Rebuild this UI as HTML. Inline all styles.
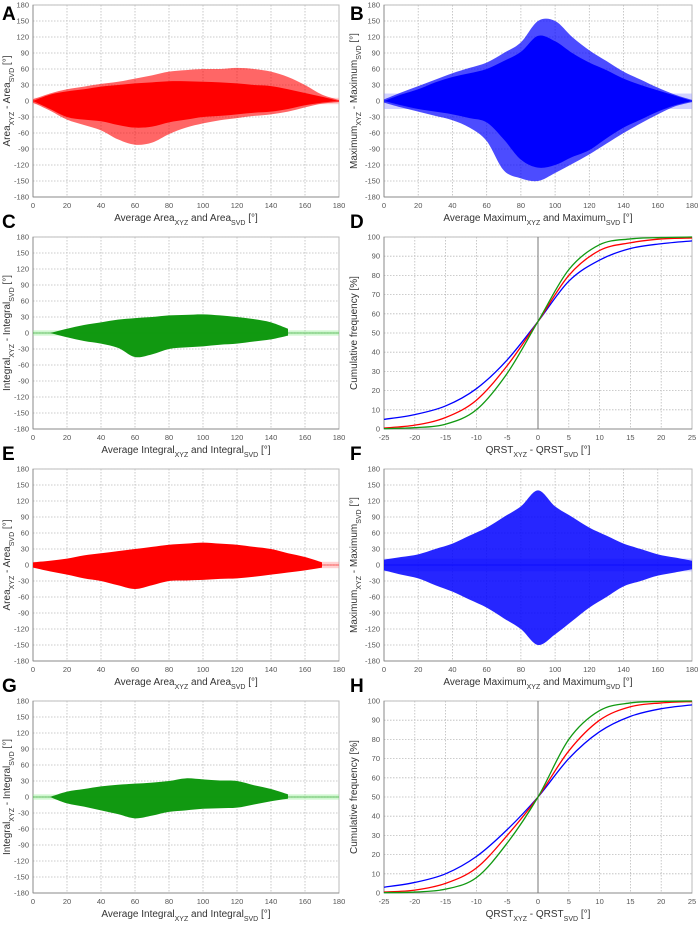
<!DOCTYPE html>
<html><head><meta charset="utf-8"><style>
html,body{margin:0;padding:0;background:#fff;}
svg{display:block;font-family:"Liberation Sans",sans-serif;}
</style></head><body>
<svg id="fig" width="698" height="930"></svg>
<script>
// ---- data ----
const scatterX = [0,10,20,30,40,50,60,70,80,90,100,110,120,130,140,150,160,170,180];
const aUp   = [0,12,18,22,27,30,33,35,37,37,36,35,33,30,28,22,15,8,0];
const aLo   = [0,-15,-30,-35,-38,-45,-50,-48,-40,-35,-30,-28,-25,-22,-20,-15,-8,-3,0];
const aUpS  = [3,14,22,27,32,36,42,48,55,58,60,60,62,60,55,45,30,12,2];
const aLoS  = [-3,-18,-35,-45,-55,-72,-82,-78,-62,-50,-42,-36,-32,-28,-25,-20,-12,-5,-2];
const bUp   = [0,12,22,35,45,52,60,75,92,122,112,90,72,58,42,30,20,10,0];
const bLo   = [0,-8,-15,-20,-25,-32,-40,-72,-110,-125,-120,-105,-92,-70,-50,-35,-20,-8,0];
const bUpS  = [3,16,28,40,52,62,72,90,110,150,150,120,95,75,55,40,25,12,2];
const bLoS  = [-3,-12,-20,-28,-36,-50,-75,-130,-145,-150,-135,-118,-100,-80,-60,-42,-25,-10,-2];
const cUp   = [null,0,8,15,20,25,28,30,33,34,35,33,30,26,20,8,null,null,null];
const cLo   = [null,0,-8,-15,-20,-28,-45,-40,-30,-27,-25,-22,-20,-16,-12,-5,null,null,null];
const eUp   = [5,8,12,18,22,26,30,34,38,40,42,40,38,34,30,22,15,5,null];
const eLo   = [-5,-12,-18,-25,-30,-38,-45,-38,-30,-29,-28,-26,-25,-22,-18,-14,-10,-5,null];
const fUp   = [10,15,20,30,40,55,70,90,110,140,110,90,70,55,40,30,20,14,8];
const fLo   = [-10,-18,-25,-38,-50,-65,-80,-100,-120,-150,-130,-105,-80,-60,-40,-30,-20,-14,-8];
const gUp   = [null,0,10,15,20,23,25,27,30,35,33,31,30,22,15,5,null,null,null];
const gLo   = [null,0,-12,-18,-25,-32,-40,-35,-28,-25,-22,-21,-20,-14,-8,-3,null,null,null];
const cdfX  = [-25,-20,-15,-10,-5,0,5,10,15,20,25];
const dBlue = [5,7.5,12,21,36,56,77,88,94,96.5,98];
const dRed  = [0.5,2,6,15,33,56,80,93,97,99,99.5];
const dGreen= [0.2,0.7,2.5,10,29,56,83,96,99,99.7,100];
const hBlue = [3,5.5,10,19,33,50,70,84,92,96,98];
const hRed  = [0.5,1.5,5,13,30,50,74,90,97,99,99.7];
const hGreen= [0.2,0.5,2,8,26,50,80,95,99,99.8,100];
const scatYTicks = [-180,-150,-120,-90,-60,-30,0,30,60,90,120,150,180];
const scatXTicks = [0,20,40,60,80,100,120,140,160,180];
const cdfYTicks = [0,10,20,30,40,50,60,70,80,90,100];
const cdfXTicks = [-25,-20,-15,-10,-5,0,5,10,15,20,25];

const NS="http://www.w3.org/2000/svg";
const svg=document.getElementById('fig');
function mk(tag,attrs,parent){const e=document.createElementNS(NS,tag);for(const k in attrs)e.setAttribute(k,attrs[k]);(parent||svg).appendChild(e);return e;}
function smooth(pts){
  let d='M'+pts[0][0]+','+pts[0][1];
  for(let i=0;i<pts.length-1;i++){const p0=pts[i-1]||pts[i],p1=pts[i],p2=pts[i+1],p3=pts[i+2]||p2;
    d+=' C'+(p1[0]+(p2[0]-p0[0])/6)+','+(p1[1]+(p2[1]-p0[1])/6)+' '+(p2[0]-(p3[0]-p1[0])/6)+','+(p2[1]-(p3[1]-p1[1])/6)+' '+p2[0]+','+p2[1];}
  return d;}
function title(g,x,y,parts,rot){
  const t=mk('text',{x:x,y:y,'font-size':10,fill:'#333','text-anchor':'middle',transform:rot?`rotate(-90 ${x} ${y})`:''},g);
  parts.forEach(p=>{const s=mk('tspan',{},t);if(p[1]){s.setAttribute('font-size',7);s.setAttribute('baseline-shift','sub');}s.textContent=p[0];});
  return t;}

function panel(o){
  const g=mk('g',{});
  
  
  const {x0,x1,y0,y1,xmin,xmax,ymin,ymax}=o;
  const sx=v=>x0+(v-xmin)/(xmax-xmin)*(x1-x0), sy=v=>y1-(v-ymin)/(ymax-ymin)*(y1-y0);
  mk('rect',{x:x0,y:y0,width:x1-x0,height:y1-y0,fill:'#fff',stroke:'#bbb'},g);
  o.xt.forEach(v=>{mk('line',{x1:sx(v),x2:sx(v),y1:y0,y2:y1,stroke:'#bbb','stroke-dasharray':'1.5,1.5','stroke-width':0.8},g);
    const t=mk('text',{x:sx(v),y:y1+11,'font-size':7.5,fill:'#555','text-anchor':'middle'},g);t.textContent=v;});
  o.yt.forEach(v=>{mk('line',{x1:x0,x2:x1,y1:sy(v),y2:sy(v),stroke:'#bbb','stroke-dasharray':'1.5,1.5','stroke-width':0.8},g);
    const t=mk('text',{x:x0-4,y:sy(v)+2.5,'font-size':7.5,fill:'#555','text-anchor':'end'},g);t.textContent=v;});
  mk('line',{x1:x0,x2:x0,y1:y0,y2:y1,stroke:'#888'},g);mk('line',{x1:x0,x2:x1,y1:y1,y2:y1,stroke:'#888'},g);
  if(o.band){mk('rect',{x:x0,y:sy(o.band[1]),width:x1-x0,height:sy(o.band[0])-sy(o.band[1]),fill:o.bandColor,opacity:0.45},g);}
  if(o.env){o.env.forEach(e=>{
    const up=[],lo=[];scatterX.forEach((x,i)=>{if(e.up[i]!=null){up.push([sx(x),sy(e.up[i])]);lo.push([sx(x),sy(e.lo[i])]);}});
    const p=mk('path',{d:smooth(up)+' L'+smooth(lo.reverse()).slice(1)+' Z',fill:o.color,opacity:e.op},g);
    
    
  });}
  if(o.band){mk('line',{x1:x0,x2:x1,y1:sy(0),y2:sy(0),stroke:o.color,'stroke-width':0.8,opacity:0.7},g);}
  if(o.curves){mk('line',{x1:sx(0),x2:sx(0),y1:y0,y2:y1,stroke:'#777','stroke-width':1},g);
    o.curves.forEach(c=>{const p=mk('path',{d:smooth(cdfX.map((x,i)=>[sx(x),sy(c.v[i])])),fill:'none',stroke:c.c,'stroke-width':1.3},g);
      
      });}
  const l=mk('text',{x:o.lx,y:o.ly,'font-size':19,'font-weight':'bold',fill:'#000'},g);l.textContent=o.letter;
  title(g,(x0+x1)/2,y1+24,o.xtitle,false);
  title(g,o.tx,(y0+y1)/2,o.ytitle,true);
}
const L={x0:33,x1:339},R={x0:384,x1:692};
const rows=[5,237,469,701],H=192;
const sc={xmin:0,xmax:180,ymin:-180,ymax:180,xt:scatXTicks,yt:scatYTicks};
const cd={xmin:-25,xmax:25,ymin:0,ymax:100,xt:cdfXTicks,yt:cdfYTicks};
function sp(o,r,side){return Object.assign({},o,side,{y0:rows[r],y1:rows[r]+H,ly:r==0?20:rows[r]-9,lx:side===L?2:350,tx:side===L?10:357});}
panel(Object.assign(sp(sc,0,L),{name:'panel-a',letter:'A',color:'#ff0000',band:[-6,6],bandColor:'#f99',env:[{up:aUpS,lo:aLoS,op:0.6},{up:aUp,lo:aLo,op:1}],
  xtitle:[['Average Area'],['XYZ',1],[' and Area'],['SVD',1],[' [°]']],ytitle:[['Area'],['XYZ',1],[' - Area'],['SVD',1],[' [°]']]}));
panel(Object.assign(sp(sc,0,R),{name:'panel-b',letter:'B',color:'#0000ff',band:[-15,14],bandColor:'#99f',env:[{up:bUpS,lo:bLoS,op:0.7},{up:bUp,lo:bLo,op:1}],
  xtitle:[['Average Maximum'],['XYZ',1],[' and Maximum'],['SVD',1],[' [°]']],ytitle:[['Maximum'],['XYZ',1],[' - Maximum'],['SVD',1],[' [°]']]}));
panel(Object.assign(sp(sc,1,L),{name:'panel-c',letter:'C',color:'#119911',band:[-5,5],bandColor:'#9e9',env:[{up:cUp,lo:cLo,op:1}],
  xtitle:[['Average Integral'],['XYZ',1],[' and Integral'],['SVD',1],[' [°]']],ytitle:[['Integral'],['XYZ',1],[' - Integral'],['SVD',1],[' [°]']]}));
panel(Object.assign(sp(cd,1,R),{name:'panel-d',letter:'D',curves:[{v:dBlue,c:'#0000ff',n:'cdf-maximum'},{v:dRed,c:'#ff0000',n:'cdf-area'},{v:dGreen,c:'#119911',n:'cdf-integral'}],
  xtitle:[['QRST'],['XYZ',1],[' - QRST'],['SVD',1],[' [°]']],ytitle:[['Cumulative frequency [%]']]}));
panel(Object.assign(sp(sc,2,L),{name:'panel-e',letter:'E',color:'#ff0000',band:[-6,6],bandColor:'#f99',env:[{up:eUp,lo:eLo,op:1}],
  xtitle:[['Average Area'],['XYZ',1],[' and Area'],['SVD',1],[' [°]']],ytitle:[['Area'],['XYZ',1],[' - Area'],['SVD',1],[' [°]']]}));
panel(Object.assign(sp(sc,2,R),{name:'panel-f',letter:'F',color:'#0000ff',band:[-12,12],bandColor:'#99f',env:[{up:fUp,lo:fLo,op:0.85}],
  xtitle:[['Average Maximum'],['XYZ',1],[' and Maximum'],['SVD',1],[' [°]']],ytitle:[['Maximum'],['XYZ',1],[' - Maximum'],['SVD',1],[' [°]']]}));
panel(Object.assign(sp(sc,3,L),{name:'panel-g',letter:'G',color:'#119911',band:[-5,5],bandColor:'#9e9',env:[{up:gUp,lo:gLo,op:1}],
  xtitle:[['Average Integral'],['XYZ',1],[' and Integral'],['SVD',1],[' [°]']],ytitle:[['Integral'],['XYZ',1],[' - Integral'],['SVD',1],[' [°]']]}));
panel(Object.assign(sp(cd,3,R),{name:'panel-h',letter:'H',curves:[{v:hBlue,c:'#0000ff',n:'cdf-maximum'},{v:hRed,c:'#ff0000',n:'cdf-area'},{v:hGreen,c:'#119911',n:'cdf-integral'}],
  xtitle:[['QRST'],['XYZ',1],[' - QRST'],['SVD',1],[' [°]']],ytitle:[['Cumulative frequency [%]']]}));
</script>
</body></html>
